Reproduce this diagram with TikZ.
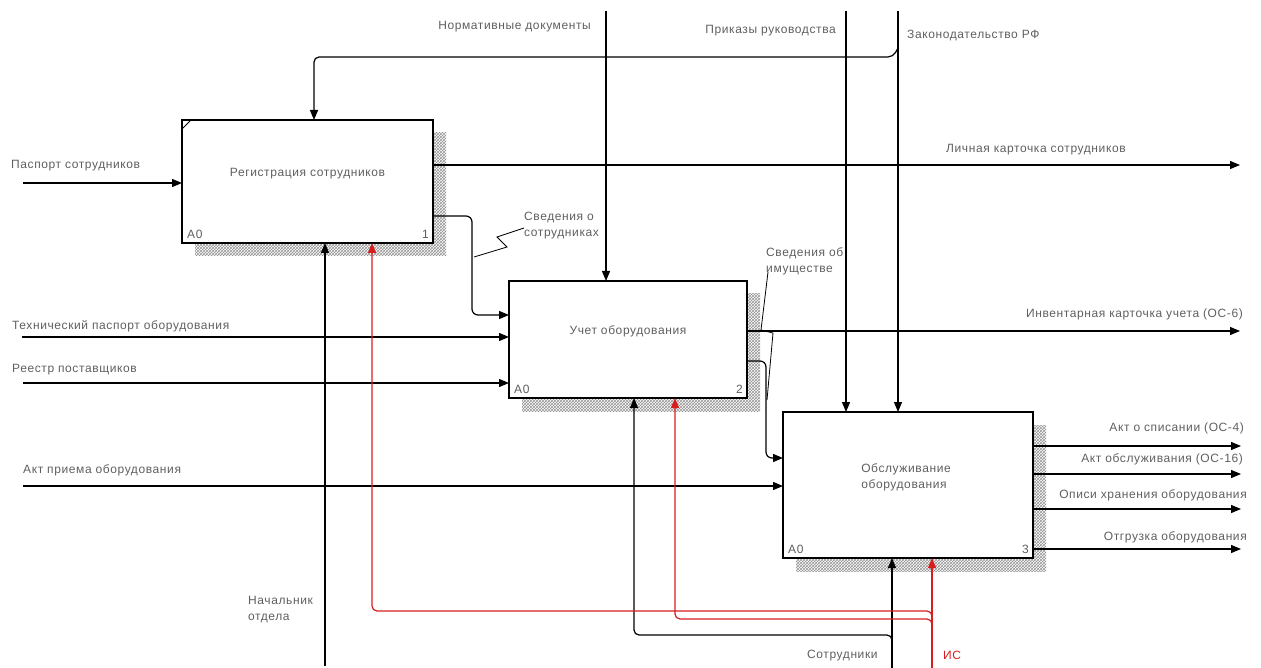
\documentclass[tikz,border=0pt]{standalone}
\usepackage{fontspec}
\setmainfont{Liberation Sans}[LetterSpace=5.0]
\usetikzlibrary{arrows.meta,patterns,calc,backgrounds}
\definecolor{txtgray}{RGB}{95,95,95}
\definecolor{isred}{RGB}{215,30,30}
\begin{document}
\begin{tikzpicture}[x=1pt,y=-1pt,
  lbl/.style={font=\fontsize{12}{16}\selectfont,text=txtgray,inner sep=0pt},
  idefbox/.style={draw,line width=2.6pt,fill=white,inner sep=0pt,outer sep=0pt},
  flow/.style={line width=1.2pt,-{Triangle[length=10pt,width=8pt]}},
  redflow/.style={flow,draw=isred},
  leader/.style={line width=0.8pt},
  hatch/.style={pattern=crosshatch,pattern color=gray!85}
]
\useasboundingbox (0,0) rectangle (1261,668);

% activity boxes
\node[idefbox,minimum width=251pt,minimum height=123pt] (b1) at (307.5,181.5) {};
\node[idefbox,minimum width=238pt,minimum height=117pt] (b2) at (628,339.5) {};
\node[idefbox,minimum width=250pt,minimum height=146pt] (b3) at (908,485) {};

% hatched drop shadows
\begin{scope}[on background layer]
  \foreach \b in {b1,b2,b3}
    \fill[hatch] ($(\b.north west)+(13,13)$) rectangle ($(\b.south east)+(13,13)$);
\end{scope}

% box captions
\node[lbl] (t1) at ($(b1.center)+(0,-8)$) {Регистрация сотрудников};
\node[lbl] (t2) at ($(b2.center)+(0,-8)$) {Учет оборудования};
\node[lbl,align=left] (t3) at ($(b3.center)+(-2,-8)$) {Обслуживание\\оборудования};
\node[lbl,anchor=south west] (a1) at ($(b1.south west)+(5,-4)$) {A0};
\node[lbl,anchor=south east] (n1) at ($(b1.south east)+(-4,-4)$) {1};
\node[lbl,anchor=south west] (a2) at ($(b2.south west)+(5,-4)$) {A0};
\node[lbl,anchor=south east] (n2) at ($(b2.south east)+(-4,-4)$) {2};
\node[lbl,anchor=south west] (a3) at ($(b3.south west)+(5,-4)$) {A0};
\node[lbl,anchor=south east] (n3) at ($(b3.south east)+(-4,-4)$) {3};
\draw[line width=1pt] ($(b1.north west)+(0,9)$) -- ($(b1.north west)+(9,0)$);

% inputs
\coordinate (pasp) at (23,183);
\draw[flow] (pasp) -- (pasp -| b1.west);
\coordinate (tech) at (22,337);
\draw[flow] (tech) -- (tech -| b2.west);
\coordinate (reestr) at (23,383);
\draw[flow] (reestr) -- (reestr -| b2.west);
\coordinate (priem) at (23,486);
\draw[flow] (priem) -- (priem -| b3.west);

% controls
\coordinate (norm) at (606,11);
\draw[flow] (norm) -- (norm |- b2.north);
\coordinate (prik) at (846,11);
\draw[flow] (prik) -- (prik |- b3.north);
\coordinate (zak) at (898,11);
\draw[flow] (zak) -- (zak |- b3.north);
\coordinate (zakb) at (898,48);
\coordinate (c1) at (314,57);
\draw[flow,rounded corners=5pt] (zakb) -- (893,57) -- (c1) -- (c1 |- b1.north);

% outputs
\coordinate (lk) at (1240,165);
\draw[flow] (lk -| b1.east) -- (lk);
\coordinate (sv1) at (472,216);
\coordinate (sv1b) at (472,315);
\draw[flow,rounded corners=6pt] (sv1 -| b1.east) -- (sv1) -- (sv1b) -- (sv1b -| b2.west);
\coordinate (inv) at (1240,331);
\draw[flow] (inv -| b2.east) -- (inv);
\coordinate (sv2) at (766,361);
\coordinate (sv2b) at (766,458);
\draw[flow,rounded corners=6pt] (sv2 -| b2.east) -- (sv2) -- (sv2b) -- (sv2b -| b3.west);
\coordinate (o1) at (1241,446);
\draw[flow] (o1 -| b3.east) -- (o1);
\coordinate (o2) at (1241,474);
\draw[flow] (o2 -| b3.east) -- (o2);
\coordinate (o3) at (1241,509);
\draw[flow] (o3 -| b3.east) -- (o3);
\coordinate (o4) at (1241,549);
\draw[flow] (o4 -| b3.east) -- (o4);

% mechanisms
\coordinate (nach) at (325,666);
\draw[flow] (nach) -- (nach |- b1.south);
\coordinate (sotr) at (892,668);
\draw[flow] (sotr) -- (sotr |- b3.south);
\coordinate (sotrb) at (892,645);
\coordinate (c2) at (634,635);
\draw[flow,rounded corners=5pt] (sotrb) -- (892,635) -- (c2) -- (c2 |- b2.south);
\coordinate (is) at (932,668);
\draw[redflow] (is) -- (is |- b3.south);
\coordinate (isb1) at (932,624);
\coordinate (c3) at (372,611);
\draw[redflow,rounded corners=5pt] (isb1) -- (932,611) -- (c3) -- (c3 |- b1.south);
\coordinate (isb2) at (932,632);
\coordinate (c4) at (675,619);
\draw[redflow,rounded corners=5pt] (isb2) -- (932,619) -- (c4) -- (c4 |- b2.south);

% arrow labels
\node[lbl,anchor=west] (lpasp) at (11,166) {Паспорт сотрудников};
\node[lbl,anchor=east] (lnorm) at (591,27) {Нормативные документы};
\node[lbl,anchor=east] (lprik) at (836,31) {Приказы руководства};
\node[lbl,anchor=west] (lzak) at (907,36) {Законодательство РФ};
\node[lbl,anchor=west] (llk) at (946,150) {Личная карточка сотрудников};
\node[lbl,anchor=north west,align=left] (lsv1) at (524,212) {Сведения о\\сотрудниках};
\node[lbl,anchor=north west,align=left] (lsv2) at (766,248) {Сведения об\\имуществе};
\node[lbl,anchor=west] (ltech) at (12,326) {Технический паспорт оборудования};
\node[lbl,anchor=west] (lreestr) at (12,370) {Реестр поставщиков};
\node[lbl,anchor=west] (lpriem) at (23,470) {Акт приема оборудования};
\node[lbl,anchor=east] (linv) at (1243,314) {Инвентарная карточка учета (ОС-6)};
\node[lbl,anchor=east] (lo1) at (1244,428) {Акт о списании (ОС-4)};
\node[lbl,anchor=east] (lo2) at (1243,459) {Акт обслуживания (ОС-16)};
\node[lbl,anchor=east] (lo3) at (1247,495) {Описи хранения оборудования};
\node[lbl,anchor=east] (lo4) at (1247,537) {Отгрузка оборудования};
\node[lbl,anchor=north west,align=left] (lnach) at (248,596) {Начальник\\отдела};
\node[lbl,anchor=west] (lsotr) at (807,656) {Сотрудники};
\node[lbl,anchor=west,text=isred] (lis) at (943,655) {ИС};

% label leaders
\draw[leader] (474,257) -- (507,247) -- (497,237) -- (lsv1.west |- 0,228);
\draw[leader] (768,272) -- (761,330) -- (773,333) -- (767,400);
\end{tikzpicture}
\end{document}
